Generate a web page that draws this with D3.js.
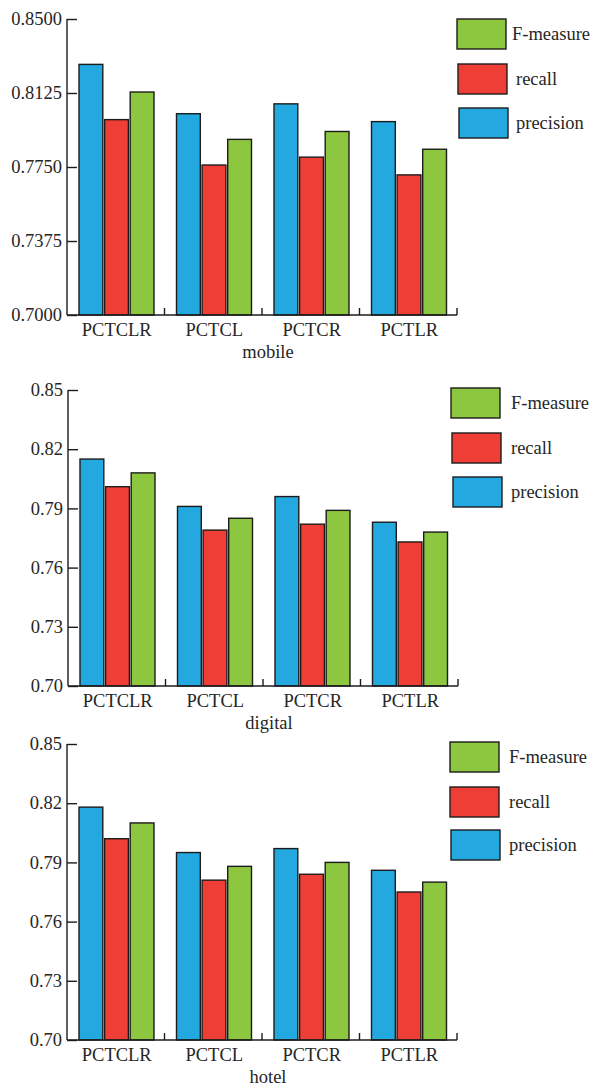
<!DOCTYPE html>
<html>
<head>
<meta charset="utf-8">
<script src="https://cdn.jsdelivr.net/npm/d3@7"></script>
<style>
  html, body { margin: 0; padding: 0; background: #fff; }
  svg { display: block; }
</style>
</head>
<body>
<svg id="chart" width="593" height="1087"></svg>
<script>
// ---- data ----
const categories = ["PCTCLR", "PCTCL", "PCTCR", "PCTLR"];
const seriesNames = ["precision", "recall", "F-measure"];
const seriesColors = ["#23a8e0", "#ef3e36", "#8dc63f"];
const legendOrder = ["F-measure", "recall", "precision"];

const panelTitles = ["mobile", "digital", "hotel"];

// values per panel: [precision, recall, F-measure] for each category
const mobilePrecision = [0.827, 0.802, 0.807, 0.798];
const mobileRecall    = [0.799, 0.776, 0.780, 0.771];
const mobileF         = [0.813, 0.789, 0.793, 0.784];

const digitalPrecision = [0.815, 0.791, 0.796, 0.783];
const digitalRecall    = [0.801, 0.779, 0.782, 0.773];
const digitalF         = [0.808, 0.785, 0.789, 0.778];

const hotelPrecision = [0.818, 0.795, 0.797, 0.786];
const hotelRecall    = [0.802, 0.781, 0.784, 0.775];
const hotelF         = [0.810, 0.788, 0.790, 0.780];

const mobileTicks  = [0.7000, 0.7375, 0.7750, 0.8125, 0.8500];
const digitalTicks = [0.70, 0.73, 0.76, 0.79, 0.82, 0.85];
const hotelTicks   = [0.70, 0.73, 0.76, 0.79, 0.82, 0.85];
const tickFormats  = [".4f", ".2f", ".2f"];
const yDomain = [0.70, 0.85];

// ---- layout ----
const panels = [
  { values: [mobilePrecision, mobileRecall, mobileF], ticks: mobileTicks,
    x0: 67, x1: 457, yTop: 19, yBot: 315,
    legX: [457, 458, 459], legY: [19, 64, 108], legTextX: [512, 516, 516] },
  { values: [digitalPrecision, digitalRecall, digitalF], ticks: digitalTicks,
    x0: 68, x1: 458, yTop: 390, yBot: 686,
    legX: [451, 452, 453], legY: [388, 433, 477], legTextX: [511, 511, 511] },
  { values: [hotelPrecision, hotelRecall, hotelF], ticks: hotelTicks,
    x0: 67, x1: 457, yTop: 744, yBot: 1040,
    legX: [450, 450, 451], legY: [742, 787, 830], legTextX: [509, 509, 509] }
];

const svg = d3.select("#chart");
const FS = 18.5;
const FONT = "'Liberation Serif', 'Times New Roman', serif";
const TXT = "#262626";
const strokeCol = "#1c1c1c";

function label(g) {
  return g.append("text").attr("font-family", FONT).attr("font-size", FS).attr("fill", TXT);
}

panels.forEach((p, pi) => {
  const g = svg.append("g");
  const x = d3.scaleBand().domain(categories).range([p.x0, p.x1]).paddingInner(0).paddingOuter(0);
  const xs = d3.scaleBand().domain(seriesNames).range([12, 87]).paddingInner(0.07);
  const y = d3.scaleLinear().domain(yDomain).range([p.yBot, p.yTop]);

  // bars
  categories.forEach((c, ci) => {
    seriesNames.forEach((s, si) => {
      const v = p.values[si][ci];
      g.append("rect")
        .attr("x", x(c) + xs(s))
        .attr("y", y(v))
        .attr("width", xs.bandwidth())
        .attr("height", y(yDomain[0]) - y(v))
        .attr("fill", seriesColors[si])
        .attr("stroke", strokeCol)
        .attr("stroke-width", 1.4);
    });
  });

  // y axis
  const yAxis = d3.axisRight(y).tickValues(p.ticks).tickSize(10).tickFormat("");
  const ya = g.append("g").attr("transform", `translate(${p.x0},0)`).call(yAxis);
  ya.select(".domain").attr("d", `M0,${p.yTop}V${p.yBot}`).attr("stroke", strokeCol).attr("stroke-width", 1.4);
  ya.selectAll(".tick line").attr("stroke", strokeCol).attr("stroke-width", 1.4);
  const fmt = d3.format(tickFormats[pi]);
  p.ticks.forEach(t => {
    label(g)
      .attr("x", p.x0 - 5)
      .attr("y", y(t))
      .attr("dy", "0.33em")
      .attr("text-anchor", "end")
      .text(fmt(t));
  });

  // x axis
  g.append("line")
    .attr("x1", p.x0).attr("x2", p.x1)
    .attr("y1", p.yBot).attr("y2", p.yBot)
    .attr("stroke", strokeCol).attr("stroke-width", 1.4);
  categories.forEach((c, ci) => {
    const bx = x(c) + x.bandwidth();
    g.append("line")
      .attr("x1", bx).attr("x2", bx)
      .attr("y1", p.yBot).attr("y2", p.yBot - 7)
      .attr("stroke", strokeCol).attr("stroke-width", 1.4);
    label(g)
      .attr("x", x(c) + x.bandwidth() / 2 + 1)
      .attr("y", p.yBot + 21)
      .attr("text-anchor", "middle")
      .text(c);
  });

  // title
  label(g)
    .attr("x", (p.x0 + p.x1) / 2 + 6)
    .attr("y", p.yBot + 43)
    .attr("text-anchor", "middle")
    .text(panelTitles[pi]);

  // legend
  legendOrder.forEach((name, li) => {
    const si = seriesNames.indexOf(name);
    g.append("rect")
      .attr("x", p.legX[li]).attr("y", p.legY[li])
      .attr("width", 49).attr("height", 30)
      .attr("fill", seriesColors[si])
      .attr("stroke", strokeCol).attr("stroke-width", 1.4);
    label(g)
      .attr("x", p.legTextX[li])
      .attr("y", p.legY[li] + 15)
      .attr("dy", "0.33em")
      .text(name);
  });
});
</script>
</body>
</html>
